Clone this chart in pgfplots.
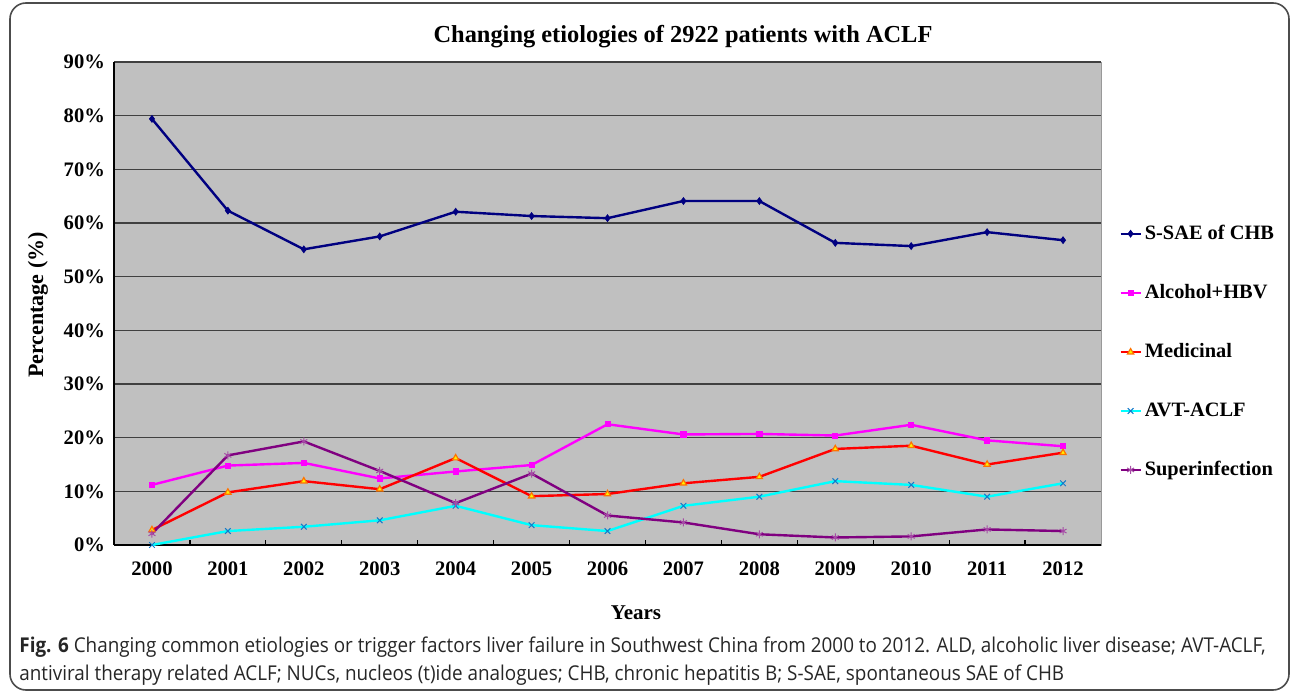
\documentclass[border=0pt]{standalone}
\usepackage{pgfplots}
\pgfplotsset{compat=1.18}
\usepackage{fontspec}
\setmainfont{Liberation Serif}
\newfontfamily\capfont[FakeStretch=0.925]{Open Sans}
\definecolor{plotbg}{HTML}{C0C0C0}
\definecolor{cnavy}{HTML}{000080}
\definecolor{cmag}{HTML}{FF00FF}
\definecolor{cred}{HTML}{FF0000}
\definecolor{ccyan}{HTML}{00FFFF}
\definecolor{cpurp}{HTML}{800080}
\begin{document}
\begin{tikzpicture}
\useasboundingbox (0,0) rectangle (646pt,346.5pt);
\draw[black!70, line width=0.8pt, rounded corners=8pt] (5pt,1.5pt) rectangle (644.5pt,345pt);
\begin{axis}[
    at={(57pt,74pt)}, anchor=south west,
    scale only axis,
    width=493.5pt, height=241.5pt,
    xmin=-0.5, xmax=12.5,
    ymin=0, ymax=0.9,
    xtick={0,...,12},
    xticklabels={2000,2001,2002,2003,2004,2005,2006,2007,2008,2009,2010,2011,2012},
    major x tick style={draw=none},
    minor xtick={0.5,1.5,...,11.5},
    minor x tick style={black, line width=0.6pt},
    minor tick length=2.5pt,
    ytick={0,0.1,...,0.9},
    yticklabels={0\%,10\%,20\%,30\%,40\%,50\%,60\%,70\%,80\%,90\%},
    major y tick style={draw=none},
    ymajorgrids,
    major grid style={black!75, line width=0.6pt},
    axis x line*=bottom, axis y line*=left,
    axis line style={black, line width=0.7pt, -},
    axis background/.style={fill=plotbg, draw=black!40},
    tick label style={font=\fontsize{10.3}{12}\selectfont\bfseries},
    xticklabel style={yshift=-5pt},
    yticklabel style={xshift=-1pt},
    legend cell align=left,
    legend style={draw=none, fill=none, at={(1,0.40)}, anchor=west,
        xshift=9pt, row sep=17pt, inner xsep=0pt,
        font=\fontsize{10.2}{12}\selectfont\bfseries,
        nodes={inner xsep=1.5pt}},
    legend image code/.code={\draw[mark repeat=2, mark phase=2, #1] plot coordinates {(0pt,0pt) (5pt,0pt) (10pt,0pt)};},
    every axis plot/.append style={line width=1.2pt},
]
\addplot[cnavy, mark=diamond*, mark size=1.6pt, mark options={line width=0.5pt}] coordinates {
(0,0.794) (1,0.623) (2,0.551) (3,0.575) (4,0.621) (5,0.613) (6,0.609) (7,0.641) (8,0.641) (9,0.563) (10,0.557) (11,0.583) (12,0.568)};
\addlegendentry{S-SAE of CHB}
\addplot[cmag, mark=square*, mark size=1.3pt, mark options={line width=0.4pt}] coordinates {
(0,0.112) (1,0.148) (2,0.153) (3,0.124) (4,0.137) (5,0.149) (6,0.225) (7,0.206) (8,0.207) (9,0.204) (10,0.224) (11,0.195) (12,0.184)};
\addlegendentry{Alcohol+HBV}
\addplot[cred, mark=triangle*, mark size=1.8pt, mark options={fill=yellow, draw=orange!90!red, line width=0.6pt}] coordinates {
(0,0.028) (1,0.098) (2,0.119) (3,0.104) (4,0.162) (5,0.091) (6,0.095) (7,0.115) (8,0.127) (9,0.179) (10,0.185) (11,0.150) (12,0.172)};
\addlegendentry{Medicinal}
\addplot[ccyan, mark=x, mark size=2pt, mark options={draw=cyan!60!blue, line width=0.5pt}] coordinates {
(0,0.000) (1,0.026) (2,0.034) (3,0.046) (4,0.073) (5,0.037) (6,0.026) (7,0.073) (8,0.090) (9,0.119) (10,0.112) (11,0.090) (12,0.115)};
\addlegendentry{AVT-ACLF}
\addplot[cpurp, mark=asterisk, mark size=2pt, mark options={draw=cpurp!70!white, line width=0.5pt}] coordinates {
(0,0.021) (1,0.167) (2,0.193) (3,0.138) (4,0.078) (5,0.133) (6,0.055) (7,0.042) (8,0.020) (9,0.014) (10,0.016) (11,0.029) (12,0.026)};
\addlegendentry{Superinfection}
\end{axis}
\node[font=\fontsize{12.2}{14}\selectfont\bfseries] at (341.5pt,328pt) {Changing etiologies of 2922 patients with ACLF};
\node[font=\fontsize{11}{13}\selectfont\bfseries, rotate=90] at (19pt,194pt) {Percentage (\%)};
\node[font=\fontsize{10.5}{12}\selectfont\bfseries] at (318pt,40pt) {Years};
\node[anchor=base west, inner sep=0pt, font=\capfont\fontsize{10.2}{12}\selectfont, text=black!85] at (9.5pt,20.5pt)
  {\textbf{Fig. 6} Changing common etiologies or trigger factors liver failure in Southwest China from 2000 to 2012. ALD, alcoholic liver disease; AVT-ACLF,};
\node[anchor=base west, inner sep=0pt, font=\capfont\fontsize{10.2}{12}\selectfont, text=black!85] at (9.5pt,6.5pt)
  {antiviral therapy related ACLF; NUCs, nucleos (t)ide analogues; CHB, chronic hepatitis B; S-SAE, spontaneous SAE of CHB};
\end{tikzpicture}
\end{document}
